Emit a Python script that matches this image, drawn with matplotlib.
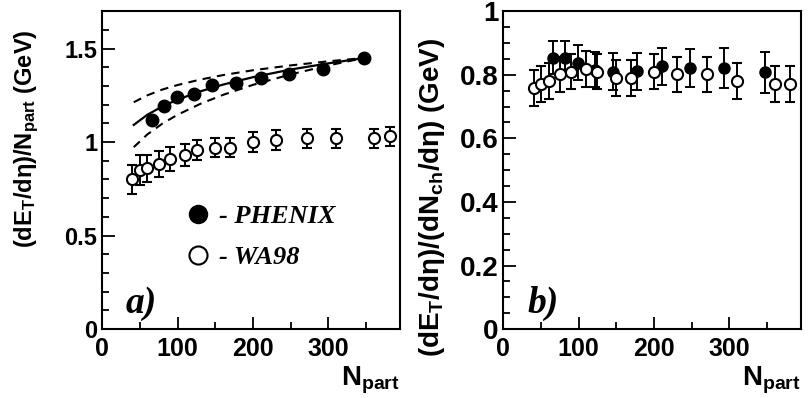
import matplotlib
matplotlib.use('Agg')
import matplotlib.pyplot as plt
from matplotlib.lines import Line2D
from matplotlib.ticker import MultipleLocator

# panel a: dE_T/deta / N_part
phenix_npart = [66, 82, 99, 122, 146, 177, 211, 248, 293, 347]
phenix_et = [1.119, 1.195, 1.242, 1.256, 1.306, 1.316, 1.341, 1.366, 1.393, 1.450]

wa98_npart = [40, 50, 60, 75, 90, 110, 126, 150, 170, 200, 230, 271, 310, 360, 381]
wa98_et = [0.800, 0.852, 0.861, 0.882, 0.911, 0.930, 0.959, 0.971, 0.971, 1.000,
           1.010, 1.021, 1.021, 1.021, 1.031]
wa98_et_err = [0.080, 0.080, 0.072, 0.069, 0.063, 0.060, 0.054, 0.052, 0.052, 0.052,
               0.052, 0.050, 0.050, 0.050, 0.051]

# fit curve and its band
fit_npart = [42, 60, 80, 100, 130, 160, 200, 250, 300, 348]
fit_mid = [1.092, 1.146, 1.191, 1.227, 1.271, 1.307, 1.347, 1.388, 1.421, 1.450]
fit_hi = [1.213, 1.250, 1.281, 1.305, 1.334, 1.358, 1.384, 1.410, 1.432, 1.450]
fit_lo = [0.973, 1.041, 1.099, 1.146, 1.204, 1.252, 1.306, 1.362, 1.410, 1.450]

# panel b: dE_T/deta / dN_ch/deta
phenix_ratio = [0.854, 0.854, 0.837, 0.816, 0.810, 0.811, 0.827, 0.822, 0.821, 0.808]
phenix_ratio_err = [0.053, 0.053, 0.055, 0.055, 0.057, 0.058, 0.058, 0.060, 0.062, 0.064]

wa98_npart_b = [40, 50, 60, 75, 90, 110, 125, 150, 170, 200, 230, 270, 310, 361, 381]
wa98_ratio = [0.759, 0.770, 0.780, 0.801, 0.810, 0.819, 0.810, 0.790, 0.790, 0.810,
              0.801, 0.801, 0.780, 0.770, 0.770]
wa98_ratio_err = [0.056] * 15

plt.rcParams['font.family'] = ['Liberation Sans', 'DejaVu Sans']
plt.rcParams['font.weight'] = 'bold'
plt.rcParams['axes.labelweight'] = 'bold'
plt.rcParams['mathtext.fontset'] = 'custom'
plt.rcParams['mathtext.rm'] = 'Liberation Sans:bold'
plt.rcParams['mathtext.it'] = 'Liberation Sans:bold'
plt.rcParams['mathtext.bf'] = 'Liberation Sans:bold'

fig = plt.figure(figsize=(8.1, 3.98), dpi=100)
axa = fig.add_axes([0.126, 0.173, 0.368, 0.799])
axb = fig.add_axes([0.6215, 0.173, 0.367, 0.799])

serif_bi = dict(family='Liberation Serif', weight='bold', style='italic')

for ax in (axa, axb):
    for s in ax.spines.values():
        s.set_linewidth(1.5)
    ax.set_xlim(0, 395)
    ax.xaxis.set_major_locator(MultipleLocator(100))
    ax.xaxis.set_minor_locator(MultipleLocator(50))
    ax.tick_params(which='both', direction='in', top=False, right=False, width=1.3)
    ax.tick_params(which='major', length=9)
    ax.tick_params(which='minor', length=5)
    ax.tick_params(axis='x', labelsize=18, pad=6)
    ax.set_xlabel('N$_{part}$', fontsize=20, loc='right', labelpad=2)

eb = dict(fmt='o', ms=8, capsize=3.5, elinewidth=1.4, capthick=1.4, color='black')
dash = (0, (4, 3))

# panel a
axa.set_ylim(0, 1.7)
axa.yaxis.set_major_locator(MultipleLocator(0.5))
axa.yaxis.set_minor_locator(MultipleLocator(0.1))
axa.tick_params(axis='y', labelsize=17)
axa.set_yticks([0, 0.5, 1, 1.5], ['0', '0.5', '1', '1.5'])
axa.plot(fit_npart, fit_mid, color='black', lw=1.6)
axa.plot(fit_npart, fit_hi, color='black', lw=1.5, ls=dash)
axa.plot(fit_npart, fit_lo, color='black', lw=1.5, ls=dash)
axa.errorbar(wa98_npart, wa98_et, yerr=wa98_et_err, mfc='white', mew=1.5, **eb)
axa.plot(phenix_npart, phenix_et, 'o', ms=9, color='black')
axa.set_ylabel('(dE$_T$/dη)/N$_{part}$ (GeV)', fontsize=17)
axa.yaxis.set_label_coords(-0.205, 0.60)
handles = [Line2D([], [], ls='none', marker='o', ms=13, color='black'),
           Line2D([], [], ls='none', marker='o', ms=13, mfc='white', mec='black', mew=1.5)]
axa.legend(handles, ['- PHENIX', '- WA98'], loc='lower left', bbox_to_anchor=(0.198, 0.113),
           frameon=False, handlelength=1.0, handletextpad=0.3, labelspacing=0.68,
           prop=dict(size=19, **serif_bi))
axa.text(0.08, 0.05, 'a)', transform=axa.transAxes, fontsize=27, **serif_bi)

# panel b
axb.set_ylim(0, 1.0)
axb.yaxis.set_major_locator(MultipleLocator(0.2))
axb.yaxis.set_minor_locator(MultipleLocator(0.05))
axb.tick_params(axis='y', labelsize=20)
axb.set_yticks([0, 0.2, 0.4, 0.6, 0.8, 1.0], ['0', '0.2', '0.4', '0.6', '0.8', '1'])
axb.errorbar(phenix_npart, phenix_ratio, yerr=phenix_ratio_err, **eb)
axb.errorbar(wa98_npart_b, wa98_ratio, yerr=wa98_ratio_err, mfc='white', mew=1.5, **eb)
axb.set_ylabel('(dE$_T$/dη)/(dN$_{ch}$/dη) (GeV)', fontsize=20)
axb.yaxis.set_label_coords(-0.19, 0.415)
axb.text(0.08, 0.05, 'b)', transform=axb.transAxes, fontsize=27, **serif_bi)

fig.savefig('out.png', dpi=100)
